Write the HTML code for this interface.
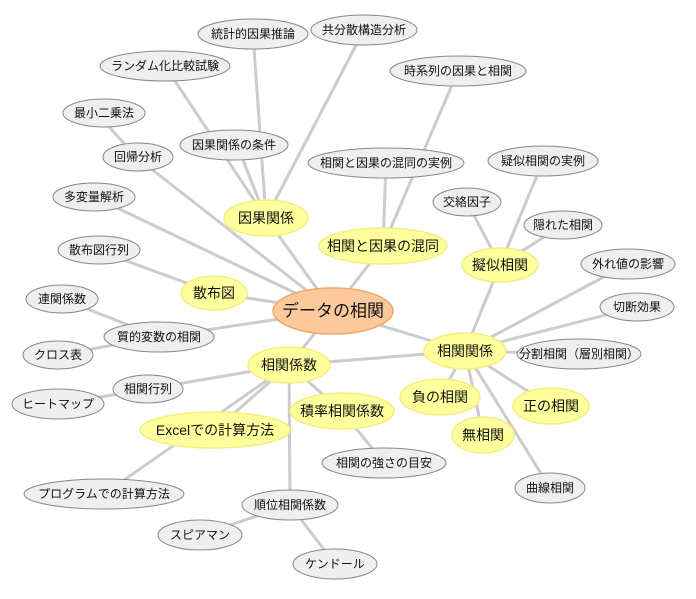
<!DOCTYPE html>
<html><head><meta charset="utf-8"><style>
html,body{margin:0;padding:0;background:#fff;width:696px;height:599px;overflow:hidden}
text{font-family:"Liberation Sans","Noto Sans CJK JP",sans-serif;text-anchor:middle;dominant-baseline:central;fill:#111}
.g ellipse{fill:#efefef;stroke:#888;stroke-width:1}
.y ellipse{fill:#ffff9e;stroke:#f3ee80;stroke-width:1.5}
.g text{font-size:12px}
.y text{font-size:14px}
line{stroke:#ccc;stroke-width:3}
</style></head><body>
<svg width="696" height="599" viewBox="0 0 696 599">
<g>
<line x1="333" y1="311" x2="266" y2="218"/>
<line x1="333" y1="311" x2="383" y2="246"/>
<line x1="333" y1="311" x2="214" y2="293"/>
<line x1="333" y1="311" x2="289" y2="365"/>
<line x1="333" y1="311" x2="465" y2="351"/>
<line x1="333" y1="311" x2="92" y2="196"/>
<line x1="333" y1="311" x2="136" y2="157"/>
<line x1="333" y1="311" x2="159" y2="337"/>
<line x1="97" y1="113" x2="136" y2="157"/>
<line x1="266" y1="218" x2="237" y2="145"/>
<line x1="266" y1="218" x2="253" y2="34"/>
<line x1="266" y1="218" x2="364" y2="30"/>
<line x1="266" y1="218" x2="165" y2="66"/>
<line x1="383" y1="246" x2="458" y2="71"/>
<line x1="383" y1="246" x2="386" y2="163"/>
<line x1="500" y1="265" x2="467" y2="202"/>
<line x1="500" y1="265" x2="563" y2="225"/>
<line x1="500" y1="265" x2="543" y2="161"/>
<line x1="500" y1="265" x2="465" y2="351"/>
<line x1="465" y1="351" x2="628" y2="264"/>
<line x1="465" y1="351" x2="637" y2="307"/>
<line x1="465" y1="351" x2="579" y2="354"/>
<line x1="465" y1="351" x2="551" y2="406"/>
<line x1="465" y1="351" x2="483" y2="435"/>
<line x1="465" y1="351" x2="440" y2="397"/>
<line x1="465" y1="351" x2="550" y2="488"/>
<line x1="465" y1="351" x2="289" y2="365"/>
<line x1="214" y1="293" x2="94" y2="249"/>
<line x1="159" y1="337" x2="62" y2="299"/>
<line x1="159" y1="337" x2="58" y2="355"/>
<line x1="289" y1="365" x2="148" y2="389"/>
<line x1="148" y1="389" x2="58" y2="404"/>
<line x1="289" y1="365" x2="215" y2="430"/>
<line x1="289" y1="365" x2="104" y2="494"/>
<line x1="289" y1="365" x2="342" y2="411"/>
<line x1="342" y1="411" x2="384" y2="463"/>
<line x1="289" y1="365" x2="290" y2="505"/>
<line x1="290" y1="505" x2="200" y2="535"/>
<line x1="290" y1="505" x2="335" y2="564"/>
</g>
<g class="g">
<ellipse cx="253" cy="34" rx="55" ry="15"/><text x="253" y="34">統計的因果推論</text>
<ellipse cx="364" cy="30" rx="53" ry="15"/><text x="364" y="30">共分散構造分析</text>
<ellipse cx="165" cy="66" rx="65" ry="15"/><text x="165" y="66">ランダム化比較試験</text>
<ellipse cx="458" cy="71" rx="68" ry="15"/><text x="458" y="71">時系列の因果と相関</text>
<ellipse cx="104" cy="113" rx="41" ry="14"/><text x="104" y="113">最小二乗法</text>
<ellipse cx="234" cy="145" rx="54" ry="15"/><text x="234" y="145">因果関係の条件</text>
<ellipse cx="138" cy="157" rx="35" ry="14"/><text x="138" y="157">回帰分析</text>
<ellipse cx="386" cy="163" rx="78" ry="15"/><text x="386" y="163">相関と因果の混同の実例</text>
<ellipse cx="543" cy="161" rx="55" ry="15"/><text x="543" y="161">疑似相関の実例</text>
<ellipse cx="94" cy="197" rx="41" ry="14"/><text x="94" y="197">多変量解析</text>
<ellipse cx="467" cy="202" rx="34" ry="14"/><text x="467" y="202">交絡因子</text>
<ellipse cx="563" cy="225" rx="39" ry="14"/><text x="563" y="225">隠れた相関</text>
<ellipse cx="99" cy="250" rx="41" ry="14"/><text x="99" y="250">散布図行列</text>
<ellipse cx="628" cy="264" rx="47" ry="15"/><text x="628" y="264">外れ値の影響</text>
<ellipse cx="62" cy="299" rx="36" ry="14"/><text x="62" y="299">連関係数</text>
<ellipse cx="637" cy="307" rx="37" ry="14"/><text x="637" y="307">切断効果</text>
<ellipse cx="159" cy="337" rx="55" ry="15"/><text x="159" y="337">質的変数の相関</text>
<ellipse cx="58" cy="355" rx="35" ry="14"/><text x="58" y="355">クロス表</text>
<ellipse cx="579" cy="354" rx="62" ry="15"/><text x="579" y="354">分割相関（層別相関）</text>
<ellipse cx="148" cy="389" rx="35" ry="14"/><text x="148" y="389">相関行列</text>
<ellipse cx="58" cy="404" rx="46" ry="15"/><text x="58" y="404">ヒートマップ</text>
<ellipse cx="384" cy="463" rx="62" ry="15"/><text x="384" y="463">相関の強さの目安</text>
<ellipse cx="550" cy="488" rx="35" ry="15"/><text x="550" y="488">曲線相関</text>
<ellipse cx="104" cy="494" rx="80" ry="15"/><text x="104" y="494">プログラムでの計算方法</text>
<ellipse cx="290" cy="505" rx="48" ry="15"/><text x="290" y="505">順位相関係数</text>
<ellipse cx="200" cy="535" rx="42" ry="15"/><text x="200" y="535">スピアマン</text>
<ellipse cx="335" cy="564" rx="42" ry="15"/><text x="335" y="564">ケンドール</text>
</g>
<g class="y">
<ellipse cx="266" cy="218" rx="42" ry="18"/><text x="266" y="218">因果関係</text>
<ellipse cx="383" cy="246" rx="64" ry="18"/><text x="383" y="246">相関と因果の混同</text>
<ellipse cx="500" cy="265" rx="38" ry="17"/><text x="500" y="265">擬似相関</text>
<ellipse cx="214" cy="293" rx="33" ry="17"/><text x="214" y="293">散布図</text>
<ellipse cx="289" cy="365" rx="41" ry="18"/><text x="289" y="365">相関係数</text>
<ellipse cx="465" cy="351" rx="41" ry="18"/><text x="465" y="351">相関関係</text>
<ellipse cx="440" cy="397" rx="40" ry="18"/><text x="440" y="397">負の相関</text>
<ellipse cx="342" cy="411" rx="52" ry="18"/><text x="342" y="411">積率相関係数</text>
<ellipse cx="215" cy="430" rx="75" ry="18"/><text x="215" y="430">Excelでの計算方法</text>
<ellipse cx="551" cy="406" rx="38" ry="18"/><text x="551" y="406">正の相関</text>
<ellipse cx="483" cy="435" rx="31" ry="18"/><text x="483" y="435">無相関</text>
</g>
<ellipse cx="333" cy="311" rx="60" ry="23" fill="#fcc99d" stroke="#f4a765" stroke-width="1.5"/>
<text x="333" y="311" style="font-size:17px">データの相関</text>
</svg>
</body></html>
